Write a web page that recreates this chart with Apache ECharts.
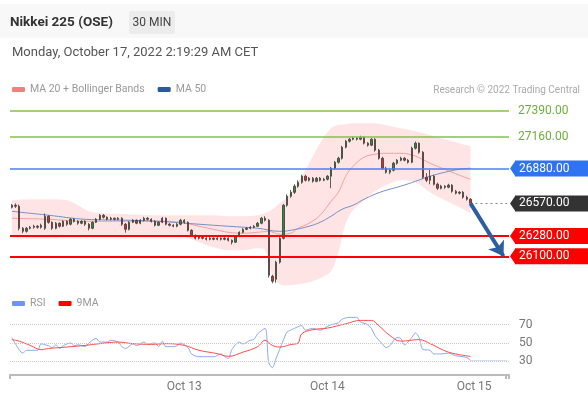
<!DOCTYPE html>
<html><head><meta charset="utf-8">
<script src="https://cdn.jsdelivr.net/npm/echarts@6/dist/echarts.min.js"></script>
<style>html,body{margin:0;padding:0;background:#fff;}#c{width:588px;height:399px;}</style>
</head><body><div id="c"></div>
<script>
// ---- 30-minute bars (price) ----
const opens = [26536,26554,26545,26349,26322,26349,26358,26367,26358,26349,26456,26402,26349,26394,26367,26411,26385,26429,26411,26394,
26411,26385,26349,26402,26429,26465,26447,26429,26438,26429,26438,26385,26340,26402,26420,26394,26420,26438,26429,26411,
26376,26402,26438,26385,26376,26367,26385,26420,26402,26331,26287,26260,26269,26260,26251,26260,26251,26260,26251,26260,
26242,26225,26278,26313,26340,26349,26358,26367,26394,26438,26420,25922,25896,26047,26260,26554,26634,26669,26723,26758,
26812,26776,26794,26767,26794,26776,26785,26812,26883,26936,26972,27070,27123,27141,27150,27141,27159,27106,27088,27141,
27043,26972,26883,26847,26865,26927,26954,26972,26954,26936,27061,27106,27025,26803,26776,26812,26741,26705,26723,26714,
26732,26678,26661,26669,26625,26607];
const closes = [26554,26545,26349,26322,26349,26358,26367,26358,26376,26456,26402,26349,26394,26367,26411,26385,26429,26411,26394,26411,
26385,26349,26402,26429,26465,26447,26429,26438,26429,26438,26385,26340,26402,26420,26394,26420,26438,26429,26411,26376,
26402,26438,26385,26376,26367,26385,26420,26402,26331,26287,26260,26269,26260,26251,26260,26251,26260,26251,26260,26242,
26225,26278,26313,26340,26349,26358,26367,26394,26438,26420,25931,25878,26047,26260,26554,26634,26669,26723,26758,26812,
26776,26794,26767,26794,26776,26785,26812,26883,26936,26972,27070,27123,27141,27150,27141,27159,27106,27088,27141,27043,
26972,26883,26847,26865,26927,26954,26972,26954,26936,27061,27106,27025,26803,26776,26812,26741,26705,26723,26714,26732,
26678,26661,26669,26625,26607,26572];
const lows = [26525,26530,26330,26305,26310,26340,26345,26345,26345,26335,26390,26335,26340,26355,26360,26370,26375,26400,26380,26385,
26370,26330,26340,26395,26420,26435,26420,26420,26420,26420,26370,26310,26330,26395,26385,26385,26410,26420,26400,26365,
26368,26395,26375,26365,26358,26358,26375,26390,26320,26275,26250,26250,26250,26240,26242,26242,26242,26240,26242,26232,
26205,26218,26270,26305,26332,26340,26350,26360,26385,26410,25910,25860,25865,26035,26250,26540,26620,26655,26710,26745,
26765,26765,26755,26758,26765,26768,26775,26705,26870,26925,26960,27060,27112,27132,27130,27132,27095,27075,27080,27030,
26960,26870,26835,26830,26855,26915,26945,26945,26925,26928,27050,27012,26790,26760,26740,26730,26690,26695,26700,26705,
26665,26650,26650,26612,26595,26560];
const highs = [26565,26570,26560,26360,26360,26370,26380,26378,26390,26480,26465,26410,26405,26400,26420,26420,26440,26440,26420,26420,
26420,26395,26410,26440,26475,26475,26455,26450,26445,26448,26448,26395,26412,26430,26428,26430,26450,26448,26438,26420,
26412,26450,26445,26395,26385,26395,26432,26430,26410,26340,26295,26280,26278,26270,26270,26268,26270,26268,26270,26268,
26250,26288,26322,26350,26358,26368,26378,26405,26450,26456,26430,25935,26060,26270,26565,26650,26690,26740,26775,26825,
26825,26805,26805,26805,26805,26798,26822,26895,26948,26985,27082,27135,27152,27165,27162,27172,27168,27115,27150,27150,
27055,26985,26895,26880,26940,26965,26985,26982,26965,27075,27120,27112,27035,26840,26870,26825,26755,26735,26732,26745,
26742,26690,26680,26680,26638,26618];

// ---- overlays read at selected bars (bar index, value) ----
const bandIdx   = [0,5,10,15,18,21,25,32,40,46,51,55,59,63,67,69,71,73,75,78,81,84,87,89,91,93,96,99,102,106,110,114,118,122,125];
const bandUpper = [26598,26607,26607,26598,26554,26500,26483,26474,26465,26465,26465,26465,26456,26456,26465,26483,26518,26572,26625,26758,
26927,27105,27239,27265,27274,27283,27283,27283,27265,27239,27212,27176,27141,27105,27079];
const bandLower = [26269,26260,26260,26269,26269,26278,26287,26287,26278,26278,26225,26180,26153,26153,26171,26153,25931,25851,25842,25851,
25869,25904,25967,26136,26394,26509,26598,26678,26732,26776,26758,26669,26598,26536,26483];
const ma20Idx = [0,10,20,32,40,46,51,55,59,63,67,70,73,76,78,81,84,87,89,91,93,96,99,102,106,110,114,118,122,125];
const ma20Val = [26438,26429,26411,26411,26411,26402,26367,26340,26313,26305,26313,26322,26296,26305,26349,26394,26465,26589,26669,26812,
26901,26981,27008,27016,27016,26990,26927,26874,26821,26785];
const ma50Idx = [0,10,20,32,40,51,59,67,73,76,81,84,87,90,93,96,99,102,106,110,114,118,122,125];
const ma50Val = [26500,26465,26429,26420,26411,26385,26367,26349,26322,26331,26367,26402,26456,26518,26554,26607,26652,26687,26723,26767,
26812,26847,26874,26883];

// ---- RSI panel ----
const rsiIdx = [0,1,3,4,6,7,8,10,11,12,13,14,16,17,18,20,21,23,24,26,27,29,30,31,33,34,36,37,39,40,41,42,44,45,46,48,49,51,53,55,57,58,59,60,
62,63,65,66,67,69,70,71,72,74,75,76,77,79,80,82,84,86,87,89,90,92,94,95,97,98,99,101,102,103,105,106,107,109,110,111,112,114,115,117,119,121,123,124,125];
const rsiVal = [56,49,39,42,42,42,49,47,45,48,44,47,50,47,48,46,50,55,51,51,53,51,46,44,49,47,51,49,50,46,52,46,46,47,50,45,38,35,35,35,38,35,33,43,
51,49,53,54,60,66,29,23,33,53,62,64,66,69,64,66,64,68,70,72,76,78,78,73,70,66,58,49,45,47,56,55,48,56,61,56,43,42,38,38,39,36,35,34,31];
const ma9Idx = [0,2,5,8,10,15,20,24,29,33,38,42,47,51,56,59,63,67,69,71,73,76,78,79,82,86,91,95,98,100,103,106,111,114,119,125];
const ma9Val = [53.7,52,47.4,42.7,44,45.6,47.4,49.3,51,49.3,48.5,49.3,47.4,42,38.4,35.4,40,46,53,47.4,45.6,48.3,50,60,64.5,66.3,71,74.7,74.7,69,58.3,52,53.7,49.3,40,35.4];

// ---- levels and labels ----
const levelValues = [27390, 27160, 26880, 26570, 26280, 26100];
const lastPrice = 26570;
const targetPrice = 26100;
const lastRsi = 31;
const rsiLevels = [70, 50, 30];
const tickIndex = [47, 86, 126];
const tickLabels = ['Oct 13', 'Oct 14', 'Oct 15'];
const categoryCount = 136;
const categories = Array.from({length: categoryCount}, (_, i) => String(i));

const candleData = opens.map((o, i) => [o, closes[i], lows[i], highs[i]]);
const pairs = (idx, vals) => idx.map((x, i) => [x, vals[i]]);
const lastIdx = opens.length - 1;

const levelStyles = [
  {line:{color:'#86c24a', width:1.5}, label:{color:'#6fae3a'}},
  {line:{color:'#86c24a', width:1.5}, label:{color:'#6fae3a'}},
  {line:{color:'#4d80f0', width:1.5}, label:{color:'#fff', backgroundColor:'#2f72f2'}},
  {line:{color:'rgba(0,0,0,0)', width:0}, label:{color:'#fff', backgroundColor:'#333333'}},
  {line:{color:'#ff0000', width:2}, label:{color:'#fff', backgroundColor:'#ff0000'}},
  {line:{color:'#ff0000', width:2}, label:{color:'#fff', backgroundColor:'#ff0000'}}
];

const levelLines = levelValues.map((v, i) => {
  const st = levelStyles[i];
  const boxed = !!st.label.backgroundColor;
  return {
    yAxis: v,
    lineStyle: Object.assign({type:'solid', opacity:1}, st.line),
    label: {
      show: true, position: 'end', formatter: v.toFixed(2),
      fontFamily: 'Roboto', fontSize: 12, color: st.label.color,
      backgroundColor: st.label.backgroundColor || 'transparent',
      padding: boxed ? [1, 19, 1, 4] : 0, lineHeight: 14,
      distance: boxed ? 6 : 9
    }
  };
});

const headerGraphics = [
  {type:'rect', shape:{x:0, y:4, width:588, height:34}, style:{fill:'#f8f8f8'}, z:-1},
  {type:'text', x:10, y:22.5, style:{text:'Nikkei 225 (OSE)', font:'bold 13.5px Roboto', fill:'#333', textVerticalAlign:'middle', verticalAlign:'middle'}},
  {type:'rect', shape:{x:129, y:11, width:46, height:23, r:2}, style:{fill:'#ececec'}},
  {type:'text', x:152, y:22.5, style:{text:'30 MIN', font:'12px Roboto', fill:'#444', textAlign:'center', align:'center', textVerticalAlign:'middle', verticalAlign:'middle'}},
  {type:'text', x:12, y:52.5, style:{text:'Monday, October 17, 2022 2:19:29 AM CET', font:'13px Roboto', fill:'#555', textVerticalAlign:'middle', verticalAlign:'middle'}},
  {type:'text', x:580, y:90, style:{text:'Research © 2022 Trading Central', font:'10px Roboto', fill:'#aaa', textAlign:'right', align:'right', textVerticalAlign:'middle', verticalAlign:'middle'}}
];

const chart = echarts.init(document.getElementById('c'), null, {renderer: 'canvas'});
chart.setOption({
  animation: false,
  backgroundColor: '#fff',
  textStyle: {fontFamily: 'Roboto'},
  graphic: headerGraphics,
  legend: [
    {left: 12, top: 84, padding: 0, itemGap: 13, itemWidth: 13, itemHeight: 5, icon: 'roundRect',
     textStyle: {color:'#999', fontSize: 10.5, fontFamily:'Roboto'},
     selectedMode: false,
     data: [{name:'MA 20 + Bollinger Bands', itemStyle:{color:'#f47f7f'}}, {name:'MA 50', itemStyle:{color:'#2c5aa0'}}]},
    {left: 12, top: 298, padding: 0, itemGap: 13, itemWidth: 13, itemHeight: 5, icon: 'roundRect',
     textStyle: {color:'#999', fontSize: 10.5, fontFamily:'Roboto'},
     selectedMode: false,
     data: [{name:'RSI', itemStyle:{color:'#6f95f0'}}, {name:'9MA', itemStyle:{color:'#ff0000'}}]}
  ],
  grid: [
    {left: 10, right: 79, top: 100, height: 190},
    {left: 10, right: 79, top: 311, height: 64}
  ],
  xAxis: [
    {type:'category', gridIndex:0, data: categories, boundaryGap: true, show: false},
    {type:'category', gridIndex:1, data: categories, boundaryGap: true,
     axisLine: {show:true, lineStyle:{color:'#bbb', width:2}},
     axisTick: {show:true, length:4, lineStyle:{color:'#bbb', width:2},
                interval: (idx) => idx === 0 || idx === categoryCount - 1 || idx === categoryCount},
     axisLabel: {show:true, interval: (idx) => tickIndex.indexOf(idx) >= 0,
                 formatter: (v, idx) => { const k = tickIndex.indexOf(idx); return k >= 0 ? tickLabels[k] : ''; },
                 color:'#777', fontSize: 12, margin: 6, fontFamily:'Roboto'},
     splitLine: {show:false}}
  ],
  yAxis: [
    {type:'value', gridIndex:0, min: 25800, max: 27490, show: false, scale: true},
    {type:'value', gridIndex:1, min: 15, max: 85, interval: 5, position:'right',
     axisLine:{show:false}, axisTick:{show:false}, splitLine:{show:false},
     axisLabel:{color:'#777', fontSize:12, margin:10, fontFamily:'Roboto',
                formatter: (v) => rsiLevels.indexOf(v) >= 0 ? String(v) : ''}}
  ],
  series: [
    {name:'bandLow', type:'line', xAxisIndex:0, yAxisIndex:0, stack:'bb', data: pairs(bandIdx, bandLower),
     symbol:'none', smooth:0.35, lineStyle:{opacity:0}, z:1, silent:true},
    {name:'bandFill', type:'line', xAxisIndex:0, yAxisIndex:0, stack:'bb',
     data: bandIdx.map((x, i) => [x, bandUpper[i] - bandLower[i]]),
     symbol:'none', smooth:0.35, lineStyle:{opacity:0}, areaStyle:{color:'rgba(250,90,90,0.16)', opacity:1}, z:1, silent:true},
    {name:'MA 20 + Bollinger Bands', type:'line', xAxisIndex:0, yAxisIndex:0, data: pairs(ma20Idx, ma20Val),
     symbol:'none', smooth:0.4, lineStyle:{color:'#f5a0a0', width:1}, itemStyle:{color:'#f47f7f'}, z:2},
    {name:'MA 50', type:'line', xAxisIndex:0, yAxisIndex:0, data: pairs(ma50Idx, ma50Val),
     symbol:'none', smooth:0.4, lineStyle:{color:'#7590c8', width:1}, itemStyle:{color:'#2c5aa0'}, z:2},
    {name:'Price', type:'candlestick', xAxisIndex:0, yAxisIndex:0, data: candleData, barMaxWidth: 3, z:3,
     itemStyle:{color:'#2f8a34', color0:'#e3262a', borderColor:'#3a3a3a', borderColor0:'#3a3a3a', borderWidth:0.8},
     markLine:{silent:true, symbol:['none','none'], animation:false, z:5,
       data: levelLines.concat([
         [{coord:[lastIdx, lastPrice], lineStyle:{color:'#888', type:[2,3], width:1}, label:{show:false}},
          {coord:[categoryCount - 1, lastPrice]}],
         [{coord:[lastIdx, lastPrice], lineStyle:{color:'#2c5f9e', type:'solid', width:4}, label:{show:false},
           symbol:'none'},
          {coord:[134, targetPrice], symbol:'arrow', symbolSize:14}]
       ])}},
    {name:'RSI', type:'line', xAxisIndex:1, yAxisIndex:1, data: pairs(rsiIdx, rsiVal),
     symbol:'none', smooth:0.3, lineStyle:{color:'#8aa9f2', width:1}, itemStyle:{color:'#6f95f0'}, z:3,
     markLine:{silent:true, symbol:['none','none'], animation:false, label:{show:false},
       data: rsiLevels.map(v => ({yAxis: v, lineStyle:{color:'#c8c8c8', type:'dotted', width:1}})).concat([
         [{coord:[lastIdx, lastRsi], lineStyle:{color:'#a9bff4', type:'dotted', width:1}}, {coord:[categoryCount - 1, lastRsi]}]
       ])}},
    {name:'9MA', type:'line', xAxisIndex:1, yAxisIndex:1, data: pairs(ma9Idx, ma9Val),
     symbol:'none', smooth:0.4, lineStyle:{color:'#ff4b4b', width:1}, itemStyle:{color:'#ff0000'}, z:3}
  ]
});

// pointed left ends of the price tags, placed through the price axis
const gridRight = 509;
const pointers = [];
levelValues.forEach((v, i) => {
  const bg = levelStyles[i].label.backgroundColor;
  if (!bg) return;
  const y = chart.convertToPixel({yAxisIndex: 0}, v);
  pointers.push({type:'polygon', z: 100,
    shape:{points:[[gridRight + 1, y], [gridRight + 6.5, y - 8], [gridRight + 6.5, y + 8]]},
    style:{fill: bg}});
});
chart.setOption({graphic: headerGraphics.concat(pointers)});
</script></body></html>
